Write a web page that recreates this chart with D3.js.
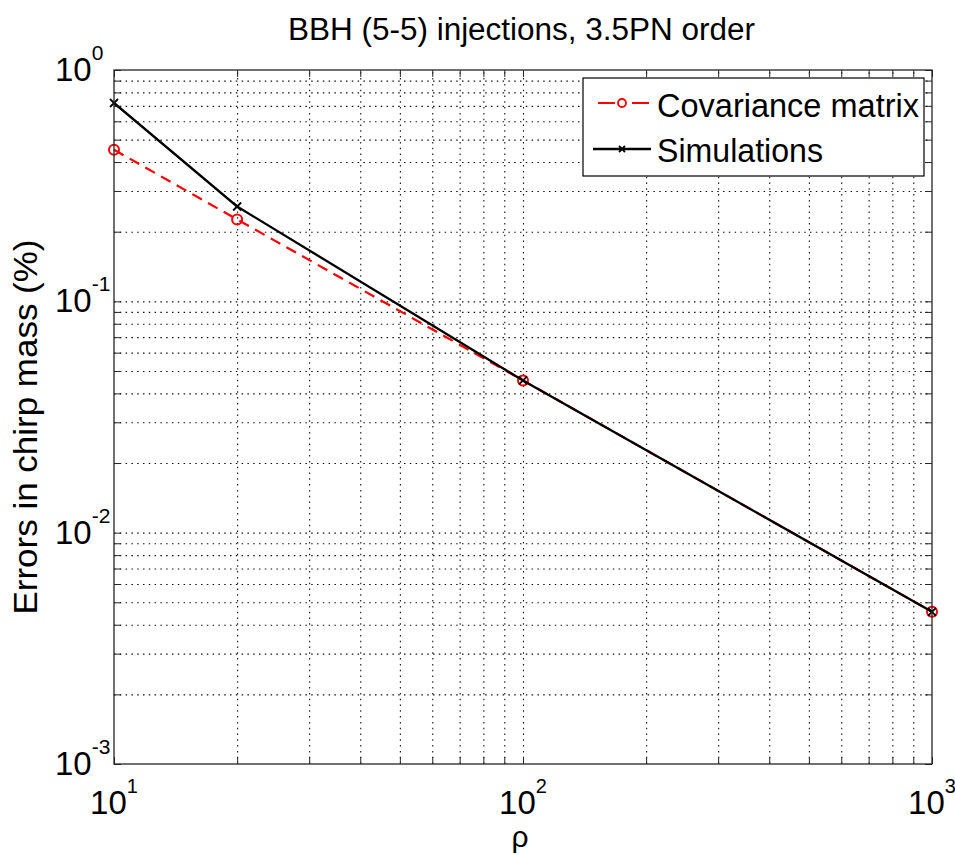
<!DOCTYPE html>
<html>
<head>
<meta charset="utf-8">
<script src="https://cdn.jsdelivr.net/npm/d3@7"></script>
<style>
  html, body { margin: 0; padding: 0; background: #fff; }
  svg { display: block; font-family: "Liberation Sans", Arial, Helvetica, sans-serif; }
</style>
</head>
<body>
<svg id="chart" width="955" height="855"></svg>
<script>
// Signal-to-noise ratios and relative chirp-mass errors (%)
const rho = [10, 20, 100, 1000];
const covarianceErr = [0.452, 0.226, 0.0455, 0.00455];
const simulationErr = [0.72, 0.257, 0.0455, 0.00455];

const xMajorTicks = [10, 100, 1000];
const xTickExponents = ["1", "2", "3"];
const yMajorTicks = [1e-3, 1e-2, 1e-1, 1];
const yTickExponents = ["-3", "-2", "-1", "0"];

const titleText = "BBH (5-5) injections, 3.5PN order";
const xLabelText = "ρ";
const yLabelText = "Errors in chirp mass (%)";
const seriesNames = ["Covariance matrix", "Simulations"];

const svg = d3.select("#chart");
const plot = { left: 114, right: 932, top: 70, bottom: 764 };
const W = plot.right - plot.left, H = plot.bottom - plot.top;

const x = d3.scaleLog().domain([10, 1000]).range([0, W]);
const y = d3.scaleLog().domain([1e-3, 1]).range([H, 0]);

// minor + major tick positions on each decade
const xAllTicks = [];
for (const d of [10, 100]) for (let k = 1; k <= 9; k++) xAllTicks.push(d * k);
xAllTicks.push(1000);
const yAllTicks = [];
for (const d of [1e-3, 1e-2, 1e-1]) for (let k = 1; k <= 9; k++) yAllTicks.push(+(d * k).toPrecision(3));
yAllTicks.push(1);

const g = svg.append("g").attr("transform", `translate(${plot.left},${plot.top})`);

// dotted grid (major and minor)
const gridStyle = sel => {
  sel.select(".domain").remove();
  sel.selectAll("text").remove();
  sel.selectAll("line")
    .attr("stroke", "#111")
    .attr("stroke-width", 1.1)
    .attr("stroke-dasharray", "1.5,4.3");
};
g.append("g")
  .attr("transform", `translate(0,${H})`)
  .call(d3.axisBottom(x).tickValues(xAllTicks.slice(1, -1)).tickSize(-H).tickFormat(""))
  .call(gridStyle);
g.append("g")
  .call(d3.axisLeft(y).tickValues(yAllTicks.slice(1, -1)).tickSize(-W).tickFormat(""))
  .call(gridStyle);

// data lines
const lineGen = d3.line().x(d => x(d[0])).y(d => y(d[1]));
const covData = rho.map((r, i) => [r, covarianceErr[i]]);
const simData = rho.map((r, i) => [r, simulationErr[i]]);

g.append("path").datum(covData)
  .attr("d", lineGen)
  .attr("fill", "none")
  .attr("stroke", "#ff0000")
  .attr("stroke-width", 2.2)
  .attr("stroke-dasharray", "11,7");

g.selectAll(".covMark").data(covData).enter().append("circle")
  .attr("cx", d => x(d[0])).attr("cy", d => y(d[1]))
  .attr("r", 5)
  .attr("fill", "none")
  .attr("stroke", "#ff0000")
  .attr("stroke-width", 2);

g.append("path").datum(simData)
  .attr("d", lineGen)
  .attr("fill", "none")
  .attr("stroke", "#000")
  .attr("stroke-width", 2.3);

const xMark = (sel, s) => sel.attr("d", `M${-s},${-s}L${s},${s}M${-s},${s}L${s},${-s}`)
  .attr("stroke", "#000").attr("stroke-width", 1.8).attr("fill", "none");
g.selectAll(".simMark").data(simData).enter().append("path")
  .attr("transform", d => `translate(${x(d[0])},${y(d[1])})`)
  .call(xMark, 4);

// axes box with inward ticks on all four sides
const tickStyle = sel => {
  sel.select(".domain").remove();
  sel.selectAll("line").attr("stroke", "#262626").attr("stroke-width", 1);
};
g.append("g").attr("transform", `translate(0,${H})`)
  .call(d3.axisBottom(x).tickValues(xAllTicks).tickSize(-7).tickFormat("")).call(tickStyle);
g.append("g")
  .call(d3.axisTop(x).tickValues(xAllTicks).tickSize(-7).tickFormat("")).call(tickStyle);
g.append("g")
  .call(d3.axisLeft(y).tickValues(yAllTicks).tickSize(-7).tickFormat("")).call(tickStyle);
g.append("g").attr("transform", `translate(${W},0)`)
  .call(d3.axisRight(y).tickValues(yAllTicks).tickSize(-7).tickFormat("")).call(tickStyle);
g.append("rect")
  .attr("x", 0).attr("y", 0).attr("width", W).attr("height", H)
  .attr("fill", "none").attr("stroke", "#262626").attr("stroke-width", 1.3);

// x tick labels: 10^n
xMajorTicks.forEach((v, i) => {
  const t = svg.append("text")
    .attr("x", plot.left + x(v))
    .attr("y", plot.bottom + 50)
    .attr("text-anchor", "middle")
    .attr("fill", "#000");
  t.append("tspan").attr("font-size", 33).text("10");
  t.append("tspan").attr("font-size", 20).attr("dy", -21).text(xTickExponents[i]);
});

// y tick labels: 10^n
yMajorTicks.forEach((v, i) => {
  const t = svg.append("text")
    .attr("x", 55)
    .attr("y", plot.top + y(v) + 11)
    .attr("text-anchor", "start")
    .attr("fill", "#000");
  t.append("tspan").attr("font-size", 33).text("10");
  t.append("tspan").attr("font-size", 21).attr("dy", -21).text(yTickExponents[i]);
});

// title and axis labels
svg.append("text")
  .attr("x", 521.5).attr("y", 40)
  .attr("text-anchor", "middle")
  .attr("font-size", 31)
  .attr("textLength", 467).attr("lengthAdjust", "spacingAndGlyphs")
  .text(titleText);

svg.append("text")
  .attr("x", 520).attr("y", 847)
  .attr("text-anchor", "middle")
  .attr("font-size", 30)
  .text(xLabelText);

svg.append("text")
  .attr("transform", "translate(37,427) rotate(-90)")
  .attr("text-anchor", "middle")
  .attr("font-size", 33)
  .attr("textLength", 375).attr("lengthAdjust", "spacingAndGlyphs")
  .text(yLabelText);

// legend
const lg = svg.append("g");
lg.append("rect")
  .attr("x", 583).attr("y", 78).attr("width", 341).attr("height", 98)
  .attr("fill", "#fff").attr("stroke", "#000").attr("stroke-width", 1.2);

lg.append("line")
  .attr("x1", 598).attr("x2", 649).attr("y1", 103).attr("y2", 103)
  .attr("stroke", "#ff0000").attr("stroke-width", 2.2)
  .attr("stroke-dasharray", "17,17");
lg.append("circle")
  .attr("cx", 622).attr("cy", 103).attr("r", 4)
  .attr("fill", "none").attr("stroke", "#ff0000").attr("stroke-width", 1.8);

lg.append("line")
  .attr("x1", 593).attr("x2", 651).attr("y1", 149).attr("y2", 149)
  .attr("stroke", "#000").attr("stroke-width", 2.3);
lg.append("path")
  .attr("transform", "translate(622,149)")
  .call(xMark, 3);

lg.append("text")
  .attr("x", 657).attr("y", 117)
  .attr("font-size", 34)
  .attr("textLength", 262).attr("lengthAdjust", "spacingAndGlyphs")
  .text(seriesNames[0]);
lg.append("text")
  .attr("x", 657).attr("y", 162)
  .attr("font-size", 34)
  .attr("textLength", 166).attr("lengthAdjust", "spacingAndGlyphs")
  .text(seriesNames[1]);
</script>
</body>
</html>
